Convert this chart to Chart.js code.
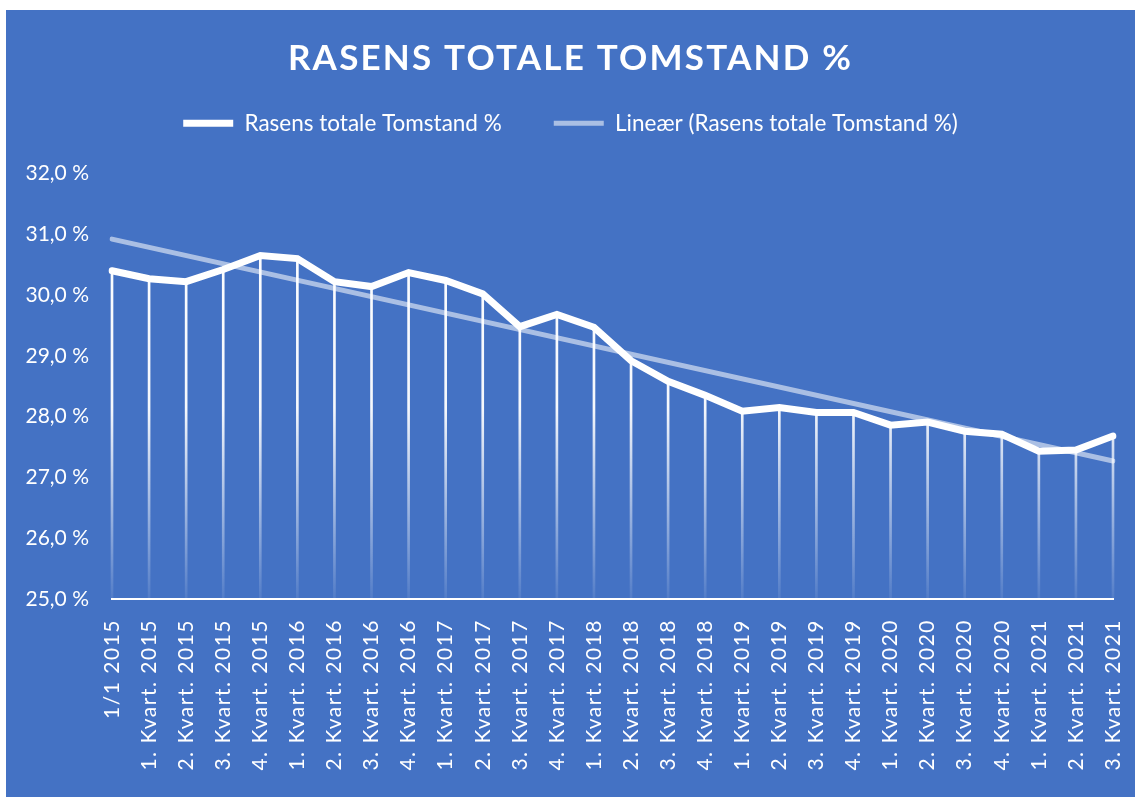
<!DOCTYPE html>
<html>
<head>
<meta charset="utf-8">
<script src="https://cdn.jsdelivr.net/npm/chart.js@4/dist/chart.umd.min.js"></script>
<style>
  html, body { margin: 0; padding: 0; background: #fff; }
  #box { position: absolute; left: 6px; top: 10px; width: 1129px; height: 787px; background: #4472C4; }
</style>
</head>
<body>
<div id="box"><canvas id="chart"></canvas></div>
<script>
// categories (x axis)
const labels = [
  '1/1 2015',
  '1. Kvart. 2015', '2. Kvart. 2015', '3. Kvart. 2015', '4. Kvart. 2015',
  '1. Kvart. 2016', '2. Kvart. 2016', '3. Kvart. 2016', '4. Kvart. 2016',
  '1. Kvart. 2017', '2. Kvart. 2017', '3. Kvart. 2017', '4. Kvart. 2017',
  '1. Kvart. 2018', '2. Kvart. 2018', '3. Kvart. 2018', '4. Kvart. 2018',
  '1. Kvart. 2019', '2. Kvart. 2019', '3. Kvart. 2019', '4. Kvart. 2019',
  '1. Kvart. 2020', '2. Kvart. 2020', '3. Kvart. 2020', '4. Kvart. 2020',
  '1. Kvart. 2021', '2. Kvart. 2021', '3. Kvart. 2021'
];

// Rasens totale Tomstand %
const tomstand = [
  30.40, 30.27, 30.22, 30.42, 30.65, 30.60, 30.22, 30.14,
  30.37, 30.24, 30.02, 29.48, 29.68, 29.47, 28.92, 28.58,
  28.35, 28.09, 28.15, 28.07, 28.07, 27.86, 27.91, 27.76,
  27.71, 27.43, 27.45, 27.68
];

// linear trend line, only its two ends
const trend = [30.92, null, null, null, null, null, null, null, null, null,
  null, null, null, null, null, null, null, null, null, null,
  null, null, null, null, null, null, null, 27.27];

const yMin = 25;
const yMax = 32;

Chart.defaults.font.family = 'Lato';
Chart.defaults.color = '#ffffff';

function fadeWhite(context) {
  const chart = context.chart;
  const area = chart.chartArea;
  if (!area) return '#ffffff';
  const g = chart.ctx.createLinearGradient(0, area.top, 0, area.bottom);
  g.addColorStop(0, 'rgba(255,255,255,1)');
  g.addColorStop(0.55, 'rgba(255,255,255,0.95)');
  g.addColorStop(1, 'rgba(255,255,255,0.08)');
  return g;
}

// extra room under the legend + letter spacing on title and x labels
const tweaks = {
  id: 'tweaks',
  beforeLayout(chart) {
    const lg = chart.legend;
    if (lg && !lg._patched) {
      const fit = lg.fit;
      lg.fit = function () { fit.call(this); this.height += 29; };
      lg._patched = true;
    }
  },
  beforeDraw(chart) {
    const x = chart.scales.x;
    if (!x._patched) {
      const draw = x.drawLabels;
      x.drawLabels = function (area) {
        this.ctx.save();
        this.ctx.letterSpacing = '1.5px';
        draw.call(this, area);
        this.ctx.restore();
      };
      x._patched = true;
    }
    const t = chart.titleBlock;
    if (t && !t._patched) {
      const draw = t.draw;
      t.draw = function (area) {
        this.ctx.save();
        this.ctx.letterSpacing = '2.2px';
        draw.call(this, area);
        this.ctx.restore();
      };
      t._patched = true;
    }
  }
};

new Chart(document.getElementById('chart'), {
  type: 'line',
  data: {
    labels: labels,
    datasets: [
      {
        label: 'Rasens totale Tomstand %',
        data: tomstand,
        borderColor: '#ffffff',
        backgroundColor: '#ffffff',
        borderWidth: 7,
        borderCapStyle: 'round',
        pointRadius: 0,
        tension: 0,
        order: 1
      },
      {
        label: 'Lineær (Rasens totale Tomstand %)',
        data: trend,
        spanGaps: true,
        borderColor: 'rgba(255,255,255,0.55)',
        backgroundColor: 'rgba(255,255,255,0.55)',
        borderWidth: 5,
        borderCapStyle: 'round',
        pointRadius: 0,
        order: 2
      },
      {
        type: 'bar',
        label: 'drop',
        data: tomstand,
        base: yMin,
        barThickness: 2,
        backgroundColor: fadeWhite,
        borderWidth: 0,
        clip: { left: 4, right: 4, top: 0, bottom: 0 },
        order: 3
      }
    ]
  },
  options: {
    responsive: true,
    maintainAspectRatio: false,
    animation: false,
    layout: { padding: 0 },
    plugins: {
      tooltip: { enabled: false },
      title: {
        display: true,
        text: 'RASENS TOTALE TOMSTAND %',
        color: '#ffffff',
        font: { size: 35, weight: 'bold' },
        padding: { top: 28, bottom: -20 }
      },
      legend: {
        display: true,
        labels: {
          color: '#ffffff',
          font: { size: 22.5 },
          usePointStyle: true,
          pointStyleWidth: 50,
          pointStyle: 'line',
          padding: 52,
          filter: (item) => item.datasetIndex !== 2
        }
      }
    },
    scales: {
      x: {
        offset: false,
        grid: { display: false, drawTicks: false },
        border: { display: true, color: '#ffffff', width: 2 },
        ticks: {
          color: '#ffffff',
          font: { size: 21 },
          minRotation: 90,
          maxRotation: 90,
          autoSkip: false,
          padding: 20
        },
        afterFit: (scale) => {
          scale.height = 198;
          scale.paddingLeft = 0;
          scale.paddingRight = 22;
        }
      },
      y: {
        min: yMin,
        max: yMax,
        grid: { display: false, drawTicks: false },
        border: { display: false },
        ticks: {
          stepSize: 1,
          color: '#ffffff',
          font: { size: 21 },
          padding: 23,
          callback: (v) => v.toFixed(1).replace('.', ',') + ' %'
        },
        afterFit: (scale) => { scale.width = 106; }
      }
    }
  },
  plugins: [tweaks]
});
</script>
</body>
</html>
